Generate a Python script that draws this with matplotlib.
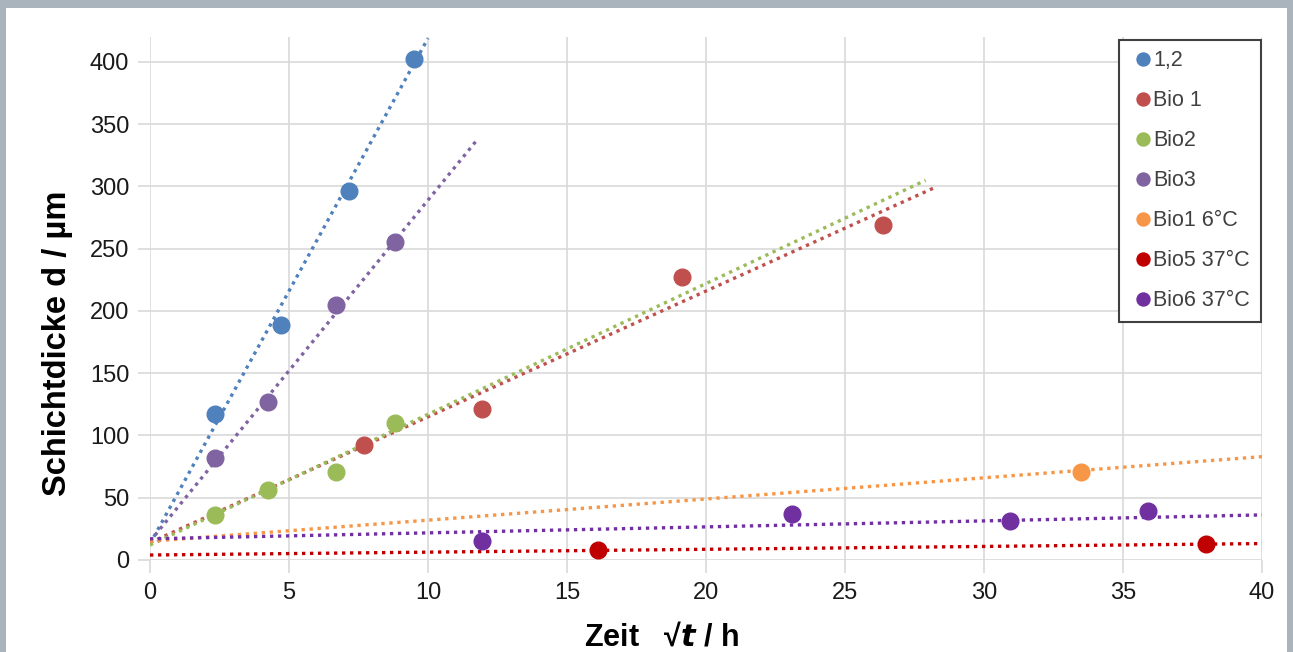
import matplotlib
matplotlib.use("Agg")
import matplotlib.pyplot as plt
import numpy as np
from matplotlib.patches import Rectangle

plt.rcParams['font.family'] = ['Liberation Sans', 'DejaVu Sans']

# measured points (x = sqrt(t) in h, y = layer thickness in um)
names = ["1,2", "Bio 1", "Bio2", "Bio3", "Bio1 6°C", "Bio5 37°C", "Bio6 37°C"]
colors = ["#4f81bd", "#c0504d", "#9bbb59", "#8064a2", "#f79646", "#c00000", "#7030a0"]

x_12 = [2.35, 4.7, 7.15, 9.5]
y_12 = [117, 189, 296, 402]
x_bio1 = [7.7, 11.95, 19.15, 26.35]
y_bio1 = [92, 121, 227, 269]
x_bio2 = [2.35, 4.25, 6.7, 8.8]
y_bio2 = [36, 56, 71, 110]
x_bio3 = [2.35, 4.25, 6.7, 8.8]
y_bio3 = [82, 127, 205, 255]
x_bio1_6 = [33.5]
y_bio1_6 = [71]
x_bio5 = [16.1, 38.0]
y_bio5 = [8, 13]
x_bio6 = [11.95, 23.1, 30.95, 35.9]
y_bio6 = [15, 37, 31, 39]

# linear trend lines (slope, intercept, end of line)
trend_slope = [40.6, 10.1, 10.5, 27.4, 1.7, 0.23, 0.48]
trend_icpt = [13, 14, 12, 15, 15, 4, 17]
trend_end = [10.0, 28.3, 27.9, 11.75, 40, 40, 40]

xs = [x_12, x_bio1, x_bio2, x_bio3, x_bio1_6, x_bio5, x_bio6]
ys = [y_12, y_bio1, y_bio2, y_bio3, y_bio1_6, y_bio5, y_bio6]

fig = plt.figure(figsize=(12.93, 6.52), dpi=100)
fig.patch.set_facecolor("#a9b4bd")
fig.patches.append(Rectangle((6 / 1293, 0), 1281 / 1293, 1 - 8 / 652,
                             transform=fig.transFigure, facecolor="white",
                             edgecolor="none", zorder=-5))

ax = fig.add_axes([150 / 1293, 1 - 560 / 652, 1112 / 1293, 523 / 652])
ax.set_facecolor("none")

for i in range(len(names)):
    xl = np.linspace(0, trend_end[i], 50)
    ax.plot(xl, trend_slope[i] * xl + trend_icpt[i], color=colors[i],
            linestyle=(0, (1, 1.4)), linewidth=2.4, zorder=2)
for i in range(len(names)):
    ax.plot(xs[i], ys[i], 'o', color=colors[i], markersize=12,
            label=names[i], zorder=3)

ax.set_xlim(0, 40)
ax.set_ylim(0, 420)
ax.set_xticks(range(0, 41, 5))
ax.set_yticks(range(0, 401, 50))
ax.grid(True, color="#d9d9d9", linewidth=1.2)
ax.set_axisbelow(True)
for s in ax.spines.values():
    s.set_visible(False)
ax.tick_params(axis='both', colors="#d9d9d9", length=9, width=1.2,
               labelcolor="#1a1a1a", labelsize=17)
ax.tick_params(axis='x', pad=7)
ax.tick_params(axis='y', pad=6)

ax.set_ylabel("Schichtdicke d / µm", fontsize=23.5, fontweight='bold')
ax.yaxis.set_label_coords(-0.069, 0.415)
ax.set_xlabel(r"Zeit   √$\mathbfit{t}$ / h", fontsize=22, fontweight='bold')
ax.xaxis.set_label_coords(0.46, -0.12)

leg = ax.legend(loc='upper right', bbox_to_anchor=(0.999, 0.995), fancybox=False,
                edgecolor="#404040", framealpha=1, fontsize=15.5, labelspacing=0.88,
                handletextpad=-0.1, borderpad=0.5, borderaxespad=0,
                markerscale=0.78, handlelength=1.2)
leg.get_frame().set_linewidth(1.5)
for t in leg.get_texts():
    t.set_color("#404040")

fig.savefig("out.png", dpi=100, facecolor=fig.get_facecolor())
